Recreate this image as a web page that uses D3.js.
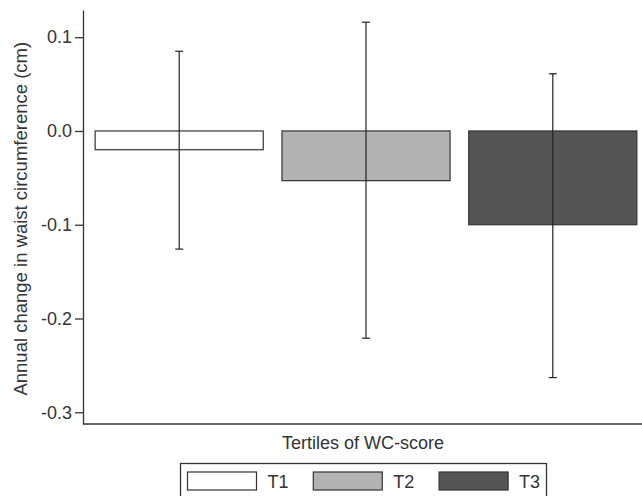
<!doctype html>
<html>
<head>
<style>
  body { margin: 0; background: #fff; }
  text { font-family: "Liberation Sans", Arial, sans-serif; fill: #333; }
</style>
</head>
<body>

<div id="container"></div>

<script src="https://d3js.org/d3.v7.min.js"></script>
<script type="text/javascript">

    var categories = ["T1", "T2", "T3"];
    var means = [-0.020, -0.053, -0.100];
    var lower = [-0.126, -0.221, -0.263];
    var upper = [0.085, 0.116, 0.061];
    var fills = ["#ffffff", "#b3b3b3", "#555555"];
    var yTicks = [0.1, 0.0, -0.1, -0.2, -0.3];
    var xlabel = "Tertiles of WC-score";
    var ylabel = "Annual change in waist circumference (cm)";

    var width = 642, height = 496;
    var plotLeft = 83, plotRight = 649, plotTop = 10, plotBottom = 424;

    var svg = d3.select("#container").append("svg")
        .attr("width", width)
        .attr("height", height);

    var x_scale = d3.scaleBand()
        .domain(categories)
        .range([plotLeft, plotRight])
        .paddingInner(0.1)
        .paddingOuter(0.065);

    var y_scale = d3.scaleLinear()
        .domain([-0.3125, 0.129])
        .range([plotBottom, plotTop]);

    var fmt = d3.formatLocale({decimal: ".", thousands: ",", grouping: [3], currency: ["", ""], minus: "-"}).format(".1f");

    // bars
    svg.selectAll(".bar")
        .data(categories)
        .enter().append("rect")
        .attr("class", "bar")
        .attr("x", function (d) { return x_scale(d); })
        .attr("width", x_scale.bandwidth())
        .attr("y", function (d, i) { return y_scale(Math.max(0, means[i])); })
        .attr("height", function (d, i) { return Math.abs(y_scale(means[i]) - y_scale(0)); })
        .attr("fill", function (d, i) { return fills[i]; })
        .attr("stroke", "#333")
        .attr("stroke-width", 1.2);

    // error bars
    var err = svg.selectAll(".err")
        .data(categories)
        .enter().append("g")
        .attr("class", "err")
        .attr("stroke", "#222")
        .attr("stroke-width", 1.2);

    var cx = function (d) { return x_scale(d) + x_scale.bandwidth() / 2; };

    err.append("line")
        .attr("x1", cx).attr("x2", cx)
        .attr("y1", function (d, i) { return y_scale(upper[i]); })
        .attr("y2", function (d, i) { return y_scale(lower[i]); });
    err.append("line")
        .attr("x1", function (d) { return cx(d) - 4; })
        .attr("x2", function (d) { return cx(d) + 4; })
        .attr("y1", function (d, i) { return y_scale(upper[i]); })
        .attr("y2", function (d, i) { return y_scale(upper[i]); });
    err.append("line")
        .attr("x1", function (d) { return cx(d) - 4; })
        .attr("x2", function (d) { return cx(d) + 4; })
        .attr("y1", function (d, i) { return y_scale(lower[i]); })
        .attr("y2", function (d, i) { return y_scale(lower[i]); });

    // y axis
    var y_axis = d3.axisLeft(y_scale)
        .tickValues(yTicks)
        .tickFormat(fmt)
        .tickSize(8)
        .tickPadding(3)
        .tickSizeOuter(0);

    var gy = svg.append("g")
        .attr("transform", "translate(" + plotLeft + ",0)")
        .call(y_axis);
    gy.selectAll("line, path").attr("stroke", "#333").attr("stroke-width", 1.3);
    gy.selectAll("text")
        .style("font-size", "18px")
        .attr("fill", "#333")
        .attr("font-family", null);

    // x axis line, no ticks
    svg.append("line")
        .attr("x1", plotLeft).attr("x2", width)
        .attr("y1", plotBottom).attr("y2", plotBottom)
        .attr("stroke", "#333")
        .attr("stroke-width", 1.3);

    svg.append("text")
        .attr("x", 363)
        .attr("y", 449)
        .style("text-anchor", "middle")
        .style("font-size", "18px")
        .text(xlabel);

    svg.append("text")
        .attr("transform", "translate(26.5," + 218.7 + ") rotate(-90)")
        .style("text-anchor", "middle")
        .style("font-size", "18.5px")
        .text(ylabel);

    // legend
    var legend = svg.append("g");
    legend.append("rect")
        .attr("x", 180.5).attr("y", 463.5)
        .attr("width", 366).attr("height", 40)
        .attr("fill", "#fff")
        .attr("stroke", "#333")
        .attr("stroke-width", 1.3);

    var items = legend.selectAll(".item")
        .data(categories)
        .enter().append("g")
        .attr("class", "item")
        .attr("transform", function (d, i) { return "translate(" + (187.5 + i * 125.8) + ",472)"; });

    items.append("rect")
        .attr("width", 69).attr("height", 18)
        .attr("fill", function (d, i) { return fills[i]; })
        .attr("stroke", "#333")
        .attr("stroke-width", 1.2);

    items.append("text")
        .attr("x", 80)
        .attr("y", 15.5)
        .style("font-size", "18px")
        .text(function (d) { return d; });

</script>
</body>
</html>
